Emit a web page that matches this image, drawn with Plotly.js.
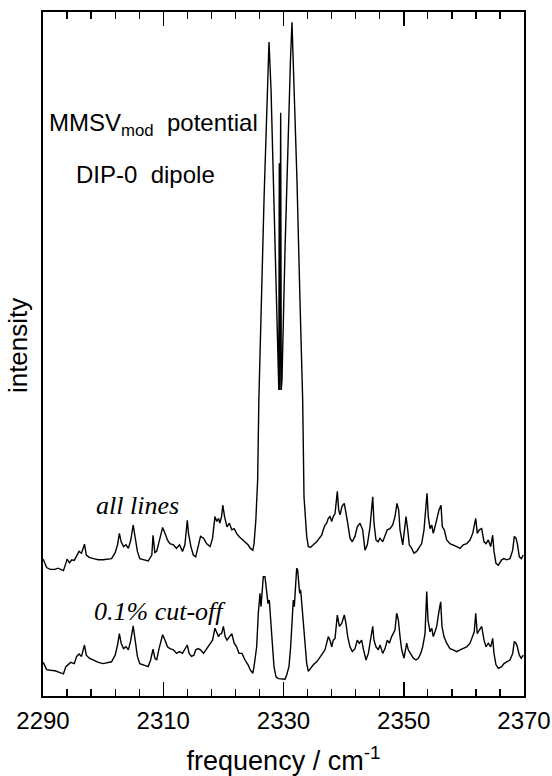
<!DOCTYPE html>
<html><head><meta charset="utf-8">
<script src="https://cdn.plot.ly/plotly-3.0.1.min.js"></script>
<style>html,body{margin:0;padding:0;background:#fff}#chart{width:552px;height:776px}</style>
</head><body><div id="chart"></div>
<script>
// frequency (cm^-1) and intensity (arb. units)
const freqAll = [2290.05,2290.6,2291.2,2292.0,2292.5,2293.4,2293.8,2294.0,2294.4,2294.8,2295.2,2295.6,2296.0,2296.4,2296.9,2297.2,2297.7,2298.4,2299.2,2300.0,2300.9,2301.4,2302.0,2302.4,2302.7,2303.0,2303.4,2303.8,2304.2,2304.6,2305.0,2305.3,2305.7,2306.1,2306.7,2307.5,2308.1,2308.3,2308.6,2308.9,2309.3,2309.9,2310.3,2310.7,2311.1,2311.7,2312.2,2312.7,2313.2,2313.6,2314.0,2314.2,2314.6,2315.0,2315.4,2315.8,2316.2,2316.7,2317.2,2317.8,2318.2,2318.6,2318.9,2319.2,2319.4,2319.7,2319.9,2320.2,2320.6,2321.0,2321.4,2321.8,2322.2,2322.6,2323.1,2323.6,2324.1,2324.5,2324.9,2325.1,2325.4,2325.7,
2325.9,2326.76,2327.26,2327.59,2327.93,2328.42,2328.92,2329.22,2329.30,2329.37,2329.53,2329.63,2329.75,2330.25,2330.75,2331.16,2331.41,2331.74,2332.24,2332.74,2333.19,
2333.41,2333.63,2333.86,2334.13,2334.52,2334.96,2335.52,2335.96,2336.35,2336.62,2336.90,2337.18,2337.45,2337.73,2338.02,2338.28,2338.57,2338.95,2339.18,2339.40,2339.73,2340.11,2340.39,2340.68,2341.06,2341.44,2341.89,2342.27,2342.72,2343.17,2343.55,2343.94,2344.39,2344.84,2345.05,2345.38,2345.72,2346.05,2346.50,2346.88,2347.26,2347.71,2348.16,2348.54,2348.88,2349.16,2349.38,2349.83,2350.04,2350.38,2350.66,2350.92,2351.32,2351.70,2352.15,2352.59,2352.98,2353.37,2353.70,2353.87,2354.08,2354.37,2354.65,2354.91,2355.20,2355.48,2355.86,2356.20,2356.41,2356.74,2357.14,2357.69,2358.24,2358.81,2359.36,2359.90,2360.47,2361.02,2361.47,2361.73,2361.97,2362.23,2362.57,2362.96,2363.35,2363.68,2364.06,2364.46,2364.79,2365.01,2365.34,2365.73,2366.29,2366.67,2367.12,2367.67,2368.12,2368.39,2368.67,2368.89,2369.22,2369.55,2369.88];
const intensityAll = [22.8,21.4,21.1,21.1,21.3,20.9,22.1,22.8,22.2,22.7,22.6,23.5,24.1,23.8,25.3,23.5,23.1,22.9,22.7,22.7,22.8,22.9,23.9,25.2,27.1,25.7,24.9,25.2,24.6,26.0,28.5,26.3,24.1,22.9,22.7,22.5,23.5,26.8,23.9,24.1,25.7,28.1,27.1,26.0,25.4,25.2,24.6,25.2,24.1,25.2,29.3,27.1,24.9,23.5,23.2,24.9,26.6,26.3,25.4,24.9,26.3,29.9,29.1,29.6,28.8,29.9,31.8,29.9,28.2,28.8,27.7,27.9,27.1,26.6,26.1,25.7,25.2,24.6,24.3,25.4,29.3,36.0,
49.3,82.7,99.3,109.0,101.0,82.7,62.7,51.0,88.8,51.0,97.2,51.0,52.7,74.3,92.7,106.0,112.3,102.7,86.0,66.0,49.3,
33.2,29.9,26.6,24.9,24.8,25.2,25.7,26.3,26.8,27.7,28.5,28.8,29.6,29.9,29.1,29.9,30.4,34.1,31.0,30.2,31.6,32.1,30.7,28.8,26.3,25.7,26.6,28.2,28.8,27.7,24.3,25.2,28.2,33.2,28.8,26.0,25.7,26.3,25.7,26.8,27.7,27.9,28.5,29.9,32.1,31.0,27.7,25.2,26.8,29.9,27.7,25.2,24.6,23.8,24.1,24.9,25.4,27.7,31.0,33.8,29.9,27.9,28.5,27.1,28.2,29.3,31.0,31.8,28.2,27.7,26.0,25.4,25.2,24.9,24.6,25.2,25.4,26.0,27.1,28.2,29.6,27.1,27.7,27.9,25.7,25.4,26.0,24.9,26.8,24.1,22.1,21.8,22.7,22.9,22.7,22.9,24.3,26.6,26.3,25.4,23.2,22.9,23.5];

const freqCut = [2290.05,2290.6,2291.2,2292.0,2292.83,2293.4,2293.8,2294.2,2294.6,2295.2,2295.6,2296.0,2296.4,2296.9,2297.2,2297.7,2298.4,2299.2,2300.0,2300.9,2301.4,2302.0,2302.4,2302.7,2303.0,2303.4,2303.8,2304.2,2304.6,2305.0,2305.3,2305.7,2306.1,2306.7,2307.5,2307.9,2308.3,2308.6,2308.9,2309.3,2309.9,2310.3,2310.7,2311.1,2311.7,2312.2,2312.7,2313.2,2313.6,2314.0,2314.3,2314.7,2315.1,2315.4,2315.8,2316.2,2316.7,2317.2,2317.8,2318.2,2318.6,2318.9,2319.2,2319.4,2319.7,2320.0,2320.3,2320.6,2321.0,2321.4,2321.8,2322.2,2322.6,2323.1,2323.6,2324.1,2324.5,2324.9,2325.1,2325.54,2325.81,2326.09,2326.26,2326.48,2326.64,2326.92,2327.20,2327.42,2327.64,2327.87,2328.14,2328.42,2328.75,2329.14,2329.70,2330.25,
2330.53,2330.91,2331.19,2331.46,2331.63,2331.80,2332.02,2332.19,2332.35,2332.52,2332.69,2332.85,2333.02,2333.19,2333.46,2333.86,2334.13,2334.52,2334.96,2335.52,2336.07,2336.52,2336.90,2337.18,2337.45,2337.73,2338.02,2338.28,2338.57,2338.95,2339.29,2339.68,2340.11,2340.39,2340.68,2341.06,2341.44,2341.89,2342.27,2342.61,2343.00,2343.27,2343.72,2344.11,2344.50,2344.84,2345.05,2345.38,2345.77,2346.05,2346.50,2346.88,2347.26,2347.60,2347.99,2348.54,2348.82,2349.10,2349.38,2349.66,2350.04,2350.49,2350.75,2351.15,2351.59,2352.04,2352.43,2352.82,2353.15,2353.54,2353.82,2354.03,2354.37,2354.65,2354.91,2355.20,2355.48,2355.81,2356.14,2356.36,2356.69,2357.14,2357.69,2358.24,2358.81,2359.36,2359.90,2360.47,2361.02,2361.47,2361.73,2361.97,2362.23,2362.57,2362.96,2363.35,2363.68,2364.06,2364.46,2364.79,2365.01,2365.34,2365.73,2366.29,2366.67,2367.12,2367.67,2368.12,2368.39,2368.67,2368.89,2369.22,2369.55,2369.88];
const intensityCut = [5.6,4.4,4.3,4.2,3.9,3.7,4.9,5.2,5.6,5.4,6.6,7.0,6.6,8.5,6.8,6.3,6.0,5.6,5.4,5.6,5.7,6.8,8.5,10.4,8.8,7.9,8.2,7.7,9.3,11.7,9.1,6.6,5.4,5.2,4.9,6.0,7.8,6.3,6.0,7.9,10.2,9.3,8.2,7.9,7.7,7.1,7.4,7.1,7.7,8.5,7.1,6.6,6.8,7.7,7.9,7.7,7.1,7.9,8.8,9.3,11.3,10.7,9.9,10.3,10.4,11.6,9.9,9.3,9.9,10.4,8.8,8.2,7.1,7.1,6.0,5.2,4.3,3.8,4.9,8.2,13.8,17.1,14.9,18.2,19.9,19.9,17.1,15.4,16.0,13.2,8.8,4.9,3.2,2.9,2.8,2.8,
3.5,4.9,8.2,12.7,16.0,14.9,18.2,21.3,21.0,19.3,17.1,17.7,15.4,13.2,9.3,5.4,4.1,4.6,5.2,5.7,6.6,7.1,7.7,8.8,9.9,9.3,8.2,9.3,9.6,13.5,11.6,12.1,13.5,12.1,9.9,8.2,7.4,7.9,9.3,8.8,9.3,7.9,6.0,7.1,9.3,11.6,9.3,8.2,7.7,8.5,7.1,7.9,9.3,8.8,9.9,11.0,13.8,12.7,9.9,7.7,6.3,8.8,7.7,7.1,6.3,6.0,6.3,7.1,8.2,10.4,17.4,12.7,10.7,11.3,9.9,10.7,11.6,13.8,15.7,11.6,9.9,8.8,7.9,7.7,7.4,7.7,7.9,8.2,8.8,9.9,10.7,13.8,10.4,11.0,11.6,9.3,8.2,8.8,8.2,9.6,7.1,5.2,4.6,4.9,5.4,5.7,6.0,7.1,9.1,8.8,8.2,6.8,6.3,6.8];

const xTickVals = [2290, 2310, 2330, 2350, 2370];
const xTickText = ['2290', '2310', '2330', '2350', '2370'];

const lineStyle = {color: '#000', width: 1.4};
const traces = [
  {x: freqAll, y: intensityAll, mode: 'lines', line: lineStyle, hoverinfo: 'skip'},
  {x: freqCut, y: intensityCut, mode: 'lines', line: lineStyle, hoverinfo: 'skip'}
];

const sans = 'Liberation Sans, Arial, Helvetica, sans-serif';
const serif = 'Liberation Serif, Times New Roman, serif';

const layout = {
  width: 552, height: 776,
  margin: {l: 43, r: 28, t: 12, b: 80},
  paper_bgcolor: '#fff', plot_bgcolor: '#fff',
  showlegend: false,
  font: {family: sans, color: '#000', size: 24},
  xaxis: {
    range: [2290, 2370], tickvals: xTickVals, ticktext: xTickText,
    ticks: 'inside', ticklen: 14, tickwidth: 1.5, tickcolor: '#000',
    minor: {dtick: 4, tick0: 2290, ticks: 'inside', ticklen: 7, tickwidth: 1.3, tickcolor: '#000'},
    showline: true, linewidth: 1.8, linecolor: '#000', mirror: 'ticks',
    showgrid: false, zeroline: false,
    tickfont: {family: sans, size: 24},
    ticklabelstandoff: 2,
    title: {text: 'frequency / cm<sup>-1</sup>', font: {family: sans, size: 27}, standoff: 19}
  },
  yaxis: {
    range: [0, 114], showticklabels: false, ticks: '',
    showline: true, linewidth: 1.8, linecolor: '#000', mirror: true,
    showgrid: false, zeroline: false
  },
  annotations: [
    {xref: 'paper', yref: 'paper', x: -0.052, y: 0.513, text: 'intensity', textangle: -90,
     showarrow: false, xanchor: 'center', yanchor: 'middle', font: {family: sans, size: 26}},
    {xref: 'paper', yref: 'paper', x: 0.008, y: 0.835, text: 'MMSV<sub>mod</sub>  potential',
     showarrow: false, xanchor: 'left', yanchor: 'middle', font: {family: sans, size: 24}},
    {xref: 'paper', yref: 'paper', x: 0.064, y: 0.762, text: 'DIP-0  dipole',
     showarrow: false, xanchor: 'left', yanchor: 'middle', font: {family: sans, size: 24}},
    {xref: 'paper', yref: 'paper', x: 0.106, y: 0.278, text: '<i>all lines</i>',
     showarrow: false, xanchor: 'left', yanchor: 'middle', font: {family: serif, size: 26}},
    {xref: 'paper', yref: 'paper', x: 0.102, y: 0.123, text: '<i>0.1% cut-off</i>',
     showarrow: false, xanchor: 'left', yanchor: 'middle', font: {family: serif, size: 26}}
  ]
};

Plotly.newPlot('chart', traces, layout, {staticPlot: true, displayModeBar: false});
</script>
</body></html>
